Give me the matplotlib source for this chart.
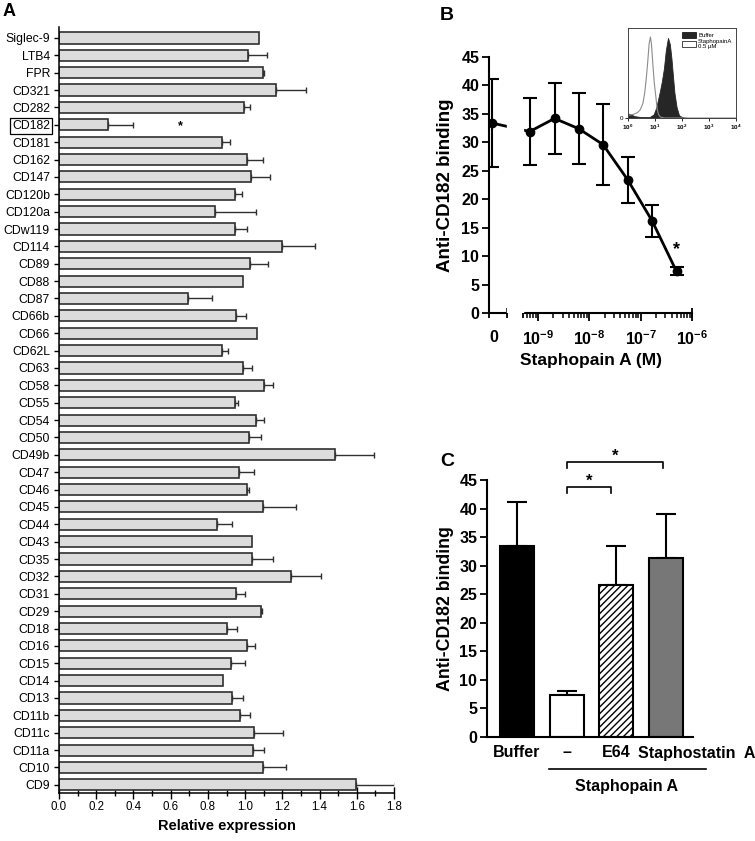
import numpy as np
import matplotlib
matplotlib.use("Agg")
from matplotlib import pyplot as plt
from matplotlib.patches import Patch
import matplotlib.transforms as mtransforms

plt.rcParams['font.family'] = ['Liberation Sans', 'DejaVu Sans']
plt.rcParams['mathtext.fontset'] = 'custom'
plt.rcParams['mathtext.rm'] = 'Liberation Sans:bold'
plt.rcParams['mathtext.bf'] = 'Liberation Sans:bold'
plt.rcParams['axes.linewidth'] = 1.1

# Panel A: relative expression of surface markers
a_names = ["Siglec-9", "LTB4", "FPR", "CD321", "CD282", "CD182", "CD181", "CD162",
           "CD147", "CD120b", "CD120a", "CDw119", "CD114", "CD89", "CD88", "CD87",
           "CD66b", "CD66", "CD62L", "CD63", "CD58", "CD55", "CD54", "CD50", "CD49b",
           "CD47", "CD46", "CD45", "CD44", "CD43", "CD35", "CD32", "CD31", "CD29",
           "CD18", "CD16", "CD15", "CD14", "CD13", "CD11b", "CD11c", "CD11a", "CD10", "CD9"]
a_vals = [1.072, 1.018, 1.095, 1.165, 0.996, 0.265, 0.876, 1.011,
          1.029, 0.948, 0.837, 0.948, 1.199, 1.027, 0.987, 0.694,
          0.952, 1.066, 0.878, 0.991, 1.102, 0.946, 1.057, 1.022, 1.484,
          0.966, 1.009, 1.095, 0.849, 1.036, 1.036, 1.247, 0.952, 1.086,
          0.901, 1.009, 0.923, 0.880, 0.930, 0.975, 1.048, 1.041, 1.095, 1.597]
a_err = [0, 0.10, 0.005, 0.163, 0.031, 0.131, 0.042, 0.084,
         0.107, 0.037, 0.224, 0.061, 0.174, 0.095, 0, 0.126,
         0.053, 0, 0.031, 0.045, 0.047, 0.016, 0.042, 0.064, 0.210,
         0.084, 0.013, 0.176, 0.081, 0, 0.116, 0.162, 0.048, 0.005,
         0.054, 0.043, 0.077, 0, 0.057, 0.050, 0.155, 0.063, 0.125, 0.209]

# Panel B: dose response (0 = buffer)
b_conc = [0, 6.9e-10, 2.1e-9, 6.2e-9, 1.85e-8, 5.6e-8, 1.67e-7, 5.0e-7]
b_vals = [33.4, 31.9, 34.2, 32.4, 29.6, 23.4, 16.2, 7.3]
b_err = [7.7, 5.9, 6.3, 6.2, 7.1, 4.1, 2.8, 0.7]

# inset histograms (log10 fluorescence, relative counts)
h_open_x = [0, .2, .35, .45, .55, .62, .68, .73, .78, .83, .87, .92, .97, 1.03, 1.08, 1.13, 1.2, 1.35, 4]
h_open_y = [.03, .04, .06, .09, .16, .28, .45, .62, .82, .90, .82, .60, .40, .24, .10, .04, .01, 0, 0]
h_fill_x = [0, .1, .25, .5, .8, .95, 1.05, 1.17, 1.25, 1.33, 1.40, 1.48, 1.55, 1.61, 1.67, 1.72, 1.8, 1.89, 2.0, 2.2, 4.0]
h_fill_y = [.05, .04, .02, .01, .01, .04, .12, .28, .40, .55, .75, .89, .82, .66, .45, .28, .12, .03, .01, 0, 0]

# Panel C
c_labels = ["Buffer", "\u2013", "E64", "Staphostatin  A"]
c_vals = [33.4, 7.3, 26.7, 31.3]
c_err = [7.7, 0.8, 6.8, 7.8]

W, H = 755, 841
fig = plt.figure(figsize=(W / 100, H / 100), dpi=100)


def box(l, t, r, b):
    return [l / W, 1 - b / H, (r - l) / W, (b - t) / H]


# ---------------- A ----------------
n = len(a_names)
ya = np.arange(n)
va = np.array(a_vals)
ea = np.array(a_err)
ax = fig.add_axes(box(59, 27, 394, 793))
ax.barh(ya, va, height=0.64, color='#dcdcdc', edgecolor='#303030', lw=1.2, zorder=2)
m = ea > 0
ax.errorbar(va[m], ya[m], xerr=[np.zeros(m.sum()), ea[m]], fmt='none', ecolor='#303030',
            elinewidth=1, capsize=2.4, capthick=1, zorder=1)
ax.set_xlim(0, 1.8)
ax.set_ylim(n - 1 + 0.47, -0.63)
ax.spines[['top', 'right']].set_visible(False)
ax.set_yticks(ya)
ax.set_yticklabels(a_names, fontsize=8.8)
ax.set_xticks(np.arange(0, 1.81, 0.2))
ax.set_xticklabels([f"{v:.1f}" for v in np.arange(0, 1.81, 0.2)], fontsize=8.3)
ax.set_xticks(np.arange(0.1, 1.8, 0.2), minor=True)
ax.tick_params(axis='y', direction='inout', length=7, width=1, pad=3)
ax.tick_params(axis='x', which='major', direction='inout', length=8, width=1, pad=2)
ax.tick_params(axis='x', which='minor', direction='inout', length=5, width=1)
ax.set_xlabel("Relative expression", fontsize=10.5, fontweight='bold', labelpad=4)
ax.get_yticklabels()[a_names.index("CD182")].set_bbox(
    dict(facecolor='none', edgecolor='black', lw=0.9, pad=1.6))
ax.text(0.65, a_names.index("CD182") + 0.1, "*", ha='center', va='center', fontsize=9,
        fontweight='bold')
fig.text(3 / W, 1 - 11 / H, "A", fontsize=13, fontweight='bold', va='center')

# ---------------- B ----------------
zero_pos = -9.9
brk = (-9.604, -9.292)
xb = np.array([zero_pos if c == 0 else np.log10(c) for c in b_conc])
bx = fig.add_axes(box(489, 57, 692, 313))
bx.plot(xb, b_vals, color='black', lw=2, zorder=2)
bx.errorbar(xb, b_vals, yerr=b_err, fmt='o', color='black', ms=6, elinewidth=1.5,
            capsize=4.7, capthick=1.5, zorder=3)
bx.axvspan(brk[0], brk[1], color='white', zorder=2.5)
bx.set_xlim(-9.955, -6.0)
bx.set_ylim(0, 45)
bx.spines[['top', 'right', 'bottom']].set_visible(False)
bx.spines['left'].set_linewidth(1.5)
bx.set_yticks(np.arange(0, 46, 5))
bx.set_yticklabels([str(v) for v in range(0, 46, 5)], fontsize=11.5, fontweight='bold')
bx.tick_params(axis='y', direction='out', length=5, width=1.3, pad=2)
tr = mtransforms.blended_transform_factory(bx.transData, bx.transAxes)
for seg in [(-9.955, brk[0]), (brk[1], -6.0)]:
    bx.plot(seg, [0, 0], color='black', lw=1.5, transform=tr, clip_on=False)
    bx.plot(seg, [0, 0], ls='none', marker='|', ms=7, mew=1.3, color='black',
            transform=tr, clip_on=False)
majors = [-9, -8, -7, -6]
bx.set_xticks([-9.86] + majors)
bx.set_xticklabels(["0"] + [r"$\mathbf{10^{%d}}$" % k for k in majors],
                   fontsize=11.5, fontweight='bold')
minors = [np.log10(k * 10.0 ** e) for e in (-10, -9, -8, -7) for k in range(2, 10)]
minors = [v for v in minors if brk[1] < v < -6]
bx.set_xticks(minors, minor=True)
bx.tick_params(axis='x', which='major', direction='out', length=6, width=1.3, pad=6)
bx.tick_params(axis='x', which='minor', direction='out', length=3.5, width=1.1)
bx.get_xaxis().get_major_ticks()[0].tick1line.set_visible(False)
bx.set_xlabel("Staphopain A (M)", fontsize=12.5, fontweight='bold', labelpad=3)
bx.set_ylabel("Anti-CD182 binding", fontsize=13.5, fontweight='bold', labelpad=5)
bx.text(xb[-1], b_vals[-1] + b_err[-1] + 3.2, "*", ha='center', va='center',
        fontsize=13, fontweight='bold')
fig.text(440 / W, 1 - 16 / H, "B", fontsize=14, fontweight='bold', va='center')

# inset
ix = fig.add_axes(box(628, 28, 736, 118))
ix.fill_between(10 ** np.array(h_fill_x), h_fill_y, color='#262626', lw=0.6)
ix.plot(10 ** np.array(h_open_x), h_open_y, color='#8c8c8c', lw=0.8)
ix.set_xscale('log')
ix.set_xlim(1, 1e4)
ix.set_ylim(0, 1.0)
ix.set_xticks([1, 10, 100, 1000, 10000])
ix.set_xticklabels([r"$10^{%d}$" % k for k in range(5)], fontsize=4.5)
ix.xaxis.set_minor_locator(matplotlib.ticker.NullLocator())
ix.set_yticks([0])
ix.set_yticklabels(["0"], fontsize=4.5)
ix.tick_params(length=2, width=0.6, pad=1.5)
for s in ix.spines.values():
    s.set_linewidth(0.7)
    s.set_color('#444444')
ix.legend(handles=[Patch(facecolor='#262626', edgecolor='black', lw=0.5),
                   Patch(facecolor='white', edgecolor='black', lw=0.5)],
          labels=["Buffer", "StaphopainA\n0.5 \u00b5M"], loc='upper right', fontsize=4.3,
          frameon=False, handlelength=2.4, handleheight=1.3, borderaxespad=0.2,
          handletextpad=0.3, labelspacing=0.1)

# ---------------- C ----------------
cx = fig.add_axes(box(487, 480, 693, 737))
xc = np.arange(len(c_vals))
bars = cx.bar(xc, c_vals, width=0.68, color=['black', 'white', 'white', '#777777'],
              edgecolor='black', lw=1.5, zorder=2)
bars[2].set_hatch('/////')
cx.errorbar(xc, c_vals, yerr=[np.zeros(len(c_vals)), c_err], fmt='none', ecolor='black',
            elinewidth=1.5, capsize=7, capthick=1.5, zorder=1)
cx.set_xlim(-0.6, 3.54)
cx.set_ylim(0, 45)
cx.spines[['top', 'right']].set_visible(False)
cx.spines['bottom'].set_linewidth(1.5)
cx.spines['left'].set_linewidth(1.5)
cx.set_yticks(np.arange(0, 46, 5))
cx.set_yticklabels([str(v) for v in range(0, 46, 5)], fontsize=11.5, fontweight='bold')
cx.tick_params(axis='y', direction='out', length=5, width=1.3, pad=2)
cx.set_xticks(xc[:3])
cx.set_xticklabels(c_labels[:3], fontsize=11.5, fontweight='bold')
cx.tick_params(axis='x', length=0, pad=6)
cx.text(xc[3] - 0.57, -2.9, c_labels[3], ha='left', va='center', fontsize=11.5,
        fontweight='bold', clip_on=False)
cx.set_ylabel("Anti-CD182 binding", fontsize=12.8, fontweight='bold', labelpad=4)
cx.plot([0.64, 3.8], [-5.6, -5.6], color='black', lw=1.2, clip_on=False)
cx.text(2.21, -8.6, "Staphopain A", ha='center', va='center', fontsize=11.5,
        fontweight='bold')

# significance brackets
for (x0, x1, yb) in [(1, 1.9, 43.8), (1, 2.94, 48.2)]:
    cx.plot([x0, x0, x1, x1], [yb - 1.1, yb, yb, yb - 1.1], color='black', lw=1.2,
            clip_on=False)
    cx.text((x0 + x1) / 2, yb + 1.0, "*", ha='center', va='center', fontsize=12,
            fontweight='bold', clip_on=False)
fig.text(440 / W, 1 - 462 / H, "C", fontsize=14, fontweight='bold', va='center')

fig.savefig("out.png", dpi=100, facecolor='white')
